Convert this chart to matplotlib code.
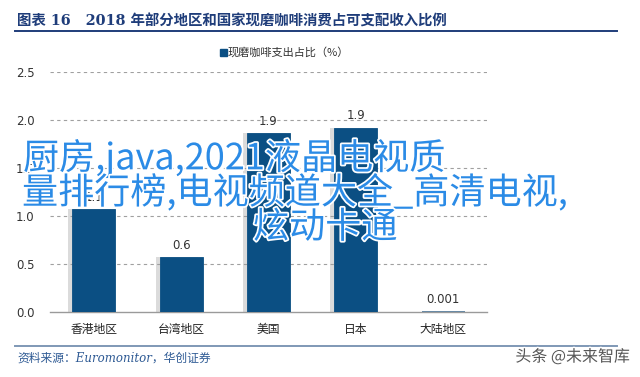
import matplotlib
matplotlib.use('Agg')
import matplotlib.pyplot as plt
import matplotlib.patheffects as pe

plt.rcParams['font.family'] = ['Noto Sans CJK SC', 'DejaVu Sans']

# data
regions = ['香港地区', '台湾地区', '美国', '日本', '大陆地区']
share = [1.07, 0.57, 1.86, 1.92, 0.001]
share_labels = ['1.1', '0.6', '1.9', '1.9', '0.001']
yticks = [0.0, 0.5, 1.0, 1.5, 2.0, 2.5]

W, H = 640, 377
BAR = '#0b4f83'
NAVY = '#1f3d7a'


def fx(px):
    return px / W


def fy(py):
    return 1 - py / H


fig = plt.figure(figsize=(6.4, 3.77), dpi=100)
fig.patch.set_facecolor('white')

ax = fig.add_axes([fx(50), fy(312), fx(487) - fx(50), fy(72) - fy(312)])
bars = ax.bar(range(len(regions)), share, width=0.49, color=BAR,
              edgecolor=BAR, lw=0.6, zorder=3)
bars[-1].set_facecolor('#4f7797')
bars[-1].set_edgecolor('#4f7797')
bars[-1].set_linewidth(1.2)
for b in bars[:-1]:
    b.set_path_effects([pe.SimplePatchShadow(offset=(-3, 0), shadow_rgbFace='#9a9a9a', alpha=0.35),
                        pe.Normal()])
for i, (v, t) in enumerate(zip(share, share_labels)):
    ax.annotate(t, (i, v), xytext=(0, 4), textcoords='offset points',
                ha='center', va='bottom', fontsize=8.5, color='#333333',
                family=['DejaVu Sans'])

ax.set_xlim(-0.5, len(regions) - 0.5)
ax.set_ylim(0, 2.5)
ax.set_yticks(yticks)
ax.set_yticklabels([f'{v:.1f}' for v in yticks], family=['DejaVu Sans'])
ax.set_xticks(range(len(regions)))
ax.set_xticklabels(regions)
ax.tick_params(axis='y', length=0, pad=11, labelsize=8.5, labelcolor='#333333')
ax.tick_params(axis='x', length=0, pad=8, labelsize=8.5, labelcolor='#222222')
for y in yticks[1:]:
    ax.axhline(y, color='#a0a0a0', lw=0.8, ls=(0, (3, 3)), zorder=1)
for s in ['top', 'right', 'left']:
    ax.spines[s].set_visible(False)
ax.spines['bottom'].set_color('#9a9a9a')
ax.spines['bottom'].set_linewidth(1.0)

# legend
fig.patches.append(plt.Rectangle((fx(220), fy(55.5)), fx(6.5), 6.5 / H, color=BAR,
                                 transform=fig.transFigure))
fig.text(fx(228), fy(52), '现磨咖啡支出占比（%）', fontsize=8, color='#333333',
         ha='left', va='center')

# title and rules
fig.text(fx(17), fy(21), '图表 16   2018 年部分地区和国家现磨咖啡消费占可支配收入比例',
         fontsize=10.4, fontweight='bold', color=NAVY, ha='left', va='center',
         family=['DejaVu Serif', 'Noto Sans CJK SC'])
fig.add_artist(plt.Line2D([fx(15), fx(617)], [fy(31), fy(31)], color=NAVY, lw=1.4))
fig.add_artist(plt.Line2D([fx(15), fx(617)], [fy(346), fy(346)], color='#7f98b5', lw=1.4))

fig.text(fx(17), fy(358), '资料来源：Euromonitor，华创证券', fontsize=8.5,
         style='italic', color='#2e5a94', ha='left', va='center',
         family=['DejaVu Serif', 'Noto Sans CJK SC'])
fig.text(fx(630), fy(357), '头条 @未来智库', fontsize=11.5, color='#555555',
         ha='right', va='center', fontweight='light',
         path_effects=[pe.withStroke(linewidth=2, foreground='white')])

# overlay caption
cap_kw = dict(fontsize=26, color='#2b8be6', ha='left', va='center',
              path_effects=[pe.withStroke(linewidth=2.5, foreground='white')])
fig.text(fx(23), fy(158), '厨房,java,2021液晶电视质', **cap_kw)
fig.text(fx(22), fy(193), '量排行榜,电视频道大全_高清电视,', **cap_kw)
fig.text(fx(253), fy(228), '炫动卡通', **cap_kw)

fig.savefig('out.png', dpi=100)
